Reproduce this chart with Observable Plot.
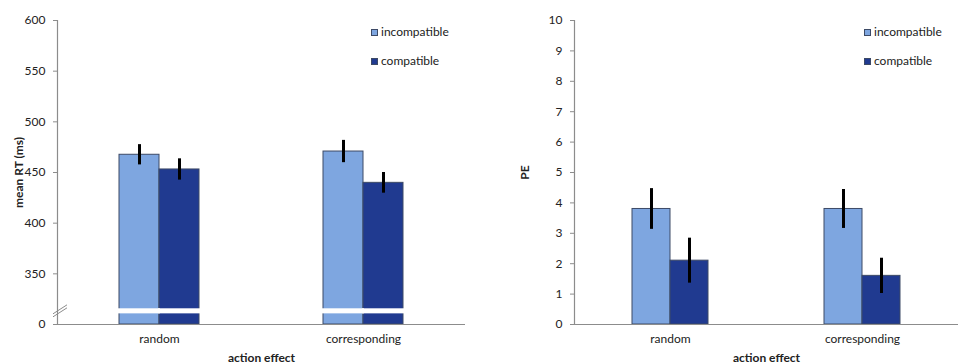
<!DOCTYPE html>
<html>
<head>
<meta charset="utf-8">
<script src="https://cdn.jsdelivr.net/npm/d3@7"></script>
<script src="https://cdn.jsdelivr.net/npm/@observablehq/plot@0.6"></script>
<style>
  body { margin: 0; background: #fff; font-family: Lato, sans-serif; }
  #wrap { position: relative; width: 958px; height: 364px; overflow: hidden; }
  .panel { position: absolute; top: 0; }
  .legend { position: absolute; font-size: 12px; color: #222; line-height: 14px; }
  .legend .item { position: absolute; white-space: nowrap; }
  .legend .sw { position: absolute; width: 7px; height: 7px; border: 1px solid #3d4a66; box-sizing: border-box; top: 4px; left: 0; }
  .legend .lab { position: absolute; left: 10px; top: 0; }
  svg [aria-label$="axis label"] { font-weight: bold; }
</style>
</head>
<body>
<div id="wrap"></div>
<script>
// ---- data ----
const categories = ["random", "corresponding"];
const conditions = ["incompatible", "compatible"];

const rtIncompatible = [467.5, 470.7];
const rtCompatible = [453.0, 439.8];
const rtErrIncompatible = [10.0, 11.0];
const rtErrCompatible = [10.5, 10.2];

const peIncompatible = [3.8, 3.8];
const peCompatible = [2.1, 1.6];
const peErrIncompatible = [0.67, 0.64];
const peErrCompatible = [0.74, 0.58];

const rtTicks = [300, 350, 400, 450, 500, 550, 600];
const rtTickLabels = ["0", "350", "400", "450", "500", "550", "600"];
const peTicks = [0, 1, 2, 3, 4, 5, 6, 7, 8, 9, 10];

const rtBreak = [310.5, 315.5]; // axis-break band (data units)

const colors = ["#7ea6e0", "#203a90"];

function rows(inc, comp, eInc, eComp) {
  const out = [];
  categories.forEach((c, i) => {
    out.push({category: c, condition: conditions[0], value: inc[i], err: eInc[i]});
    out.push({category: c, condition: conditions[1], value: comp[i], err: eComp[i]});
  });
  return out;
}

function panel({data, domain, ticks, tickFormat, label, labelOffset, width, marginLeft, marginRight, breakBand}) {
  const base = domain[0];
  const marks = [
    Plot.barY(data, {fx: "category", x: "condition", y1: base, y2: "value", fill: "condition", stroke: "#3d4a66", strokeWidth: 1})
  ];
  if (breakBand) {
    marks.push(Plot.barY(data, {fx: "category", x: "condition", y1: breakBand[0], y2: breakBand[1], fill: "white", insetLeft: -1, insetRight: -1}));
  }
  marks.push(
    Plot.ruleX(data, {fx: "category", x: "condition", y1: d => d.value - d.err, y2: d => d.value + d.err, stroke: "black", strokeWidth: 3}),
    Plot.ruleY([base], {stroke: "#8c8c8c", strokeWidth: 1.2}),
    Plot.frame({anchor: "left", facetAnchor: "left", stroke: "#8c8c8c", strokeWidth: 1.2}),
    Plot.axisY({ticks, tickFormat, tickSize: 4, tickPadding: 8, stroke: "#8c8c8c", color: "#222",
                label, labelArrow: "none", labelAnchor: "center", labelOffset}),
    Plot.axisFx({anchor: "bottom", tickSize: 0, tickPadding: 10, label: "action effect", labelArrow: "none",
                 labelAnchor: "center", labelOffset: 37, color: "#222"})
  );
  return Plot.plot({
    width, height: 364,
    marginTop: 20, marginBottom: 40, marginLeft, marginRight,
    style: {fontFamily: "Lato, sans-serif", fontSize: "12px", color: "#222", background: "white"},
    fx: {domain: categories, paddingInner: 0, paddingOuter: 0},
    x: {domain: conditions, paddingInner: 0, paddingOuter: 1.5, axis: null},
    y: {domain, axis: null},
    color: {domain: conditions, range: colors},
    marks
  });
}

const wrap = document.getElementById("wrap");

function addLegend(left, top) {
  const lg = document.createElement("div");
  lg.className = "legend";
  lg.style.left = left + "px";
  lg.style.top = top + "px";
  conditions.forEach((c, i) => {
    const it = document.createElement("div");
    it.className = "item";
    it.style.top = (i * 29) + "px";
    const sw = document.createElement("span");
    sw.className = "sw";
    sw.style.background = colors[i];
    const lab = document.createElement("span");
    lab.className = "lab";
    lab.textContent = c;
    it.appendChild(sw); it.appendChild(lab);
    lg.appendChild(it);
  });
  wrap.appendChild(lg);
}

// left panel
const left = panel({
  data: rows(rtIncompatible, rtCompatible, rtErrIncompatible, rtErrCompatible),
  domain: [300, 600], ticks: rtTicks,
  tickFormat: d => rtTickLabels[rtTicks.indexOf(d)],
  label: "mean RT (ms)", labelOffset: 43, width: 479, marginLeft: 57, marginRight: 14, breakBand: rtBreak
});
const lDiv = document.createElement("div");
lDiv.className = "panel"; lDiv.style.left = "0px";
lDiv.appendChild(left);
wrap.appendChild(lDiv);

// axis-break slashes on the left y axis
{
  const y = left.scale("y");
  const ym = y.apply((rtBreak[0] + rtBreak[1]) / 2);
  const svg = d3.select(left);
  [-1.5, 1.5].forEach(o => {
    svg.append("line")
      .attr("x1", 57 - 4).attr("x2", 57 + 10)
      .attr("y1", ym + o + 4.5).attr("y2", ym + o - 4.5)
      .attr("stroke", "#8c8c8c").attr("stroke-width", 1);
  });
}

// right panel
const right = panel({
  data: rows(peIncompatible, peCompatible, peErrIncompatible, peErrCompatible),
  domain: [0, 10], ticks: peTicks, tickFormat: d => String(d),
  label: "PE", labelOffset: 54, width: 479, marginLeft: 94, marginRight: 0, breakBand: null
});
const rDiv = document.createElement("div");
rDiv.className = "panel"; rDiv.style.left = "479px";
rDiv.appendChild(right);
wrap.appendChild(rDiv);

addLegend(371, 25);
addLegend(864, 25);
</script>
</body>
</html>
